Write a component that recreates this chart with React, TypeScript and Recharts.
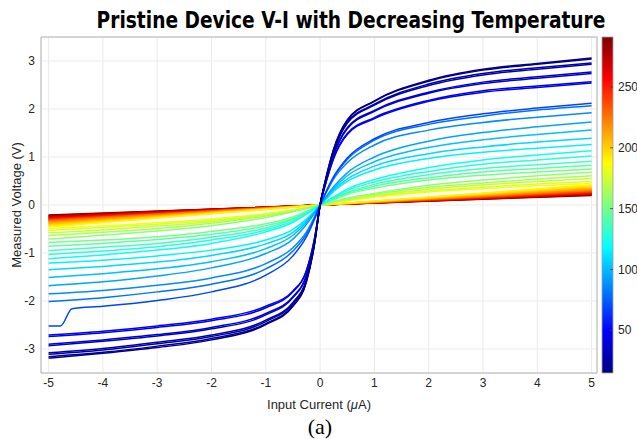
import React from "react";
import { CartesianGrid, Line, LineChart, ReferenceArea, XAxis, YAxis } from "recharts";

// current sweep (uA) shared by the curved sweeps
const CURRENT_GRID = [-5, -4, -3, -2, -1, -0.5, -0.25, -0.1, 0, 0.1, 0.25, 0.5, 1, 2, 3, 4, 5];

const V_T15 = [-3.19, -3.09, -2.97, -2.81, -2.49, -2.11, -1.6, -0.8, 0, 0.52, 1.16, 1.77, 2.17, 2.6, 2.83, 2.95, 3.06];
const V_T20 = [-3.16, -3.07, -2.94, -2.78, -2.47, -2.09, -1.58, -0.79, 0, 0.52, 1.16, 1.76, 2.16, 2.58, 2.81, 2.93, 3.04];
const V_T25 = [-3.11, -3.02, -2.89, -2.74, -2.43, -2.05, -1.56, -0.78, 0, 0.5, 1.12, 1.72, 2.1, 2.52, 2.74, 2.86, 2.96];
const V_T30 = [-3.08, -2.99, -2.86, -2.71, -2.4, -2.03, -1.54, -0.77, 0, 0.5, 1.11, 1.7, 2.08, 2.49, 2.71, 2.83, 2.93];
const V_T35 = [-2.93, -2.84, -2.73, -2.58, -2.29, -1.93, -1.47, -0.73, 0, 0.47, 1.05, 1.61, 1.97, 2.35, 2.56, 2.67, 2.77];
const V_T40 = [-2.9, -2.81, -2.7, -2.55, -2.26, -1.91, -1.45, -0.73, 0, 0.47, 1.04, 1.59, 1.95, 2.33, 2.53, 2.64, 2.74];
const V_T45 = [-2.74, -2.66, -2.55, -2.41, -2.14, -1.81, -1.37, -0.69, 0, 0.44, 0.98, 1.49, 1.82, 2.18, 2.38, 2.48, 2.57];
const V_T50 = [-2.71, -2.63, -2.52, -2.38, -2.11, -1.79, -1.36, -0.68, 0, 0.43, 0.97, 1.47, 1.8, 2.16, 2.35, 2.45, 2.54];
const V_T80 = [-2.01, -1.93, -1.81, -1.65, -1.33, -0.96, -0.6, -0.26, 0, 0.25, 0.58, 0.95, 1.35, 1.68, 1.85, 1.98, 2.07];
const V_T87 = [-1.85, -1.78, -1.67, -1.52, -1.22, -0.89, -0.56, -0.24, 0, 0.23, 0.54, 0.88, 1.25, 1.56, 1.72, 1.83, 1.92];
const V_T94 = [-1.68, -1.6, -1.48, -1.31, -1.01, -0.71, -0.4, -0.17, 0, 0.16, 0.38, 0.67, 1.0, 1.33, 1.51, 1.63, 1.73];
const V_T101 = [-1.51, -1.43, -1.33, -1.18, -0.91, -0.63, -0.36, -0.15, 0, 0.14, 0.34, 0.61, 0.9, 1.2, 1.36, 1.47, 1.56];
const V_T108 = [-1.35, -1.28, -1.19, -1.05, -0.81, -0.57, -0.32, -0.14, 0, 0.13, 0.31, 0.54, 0.81, 1.07, 1.21, 1.31, 1.39];
const V_T115 = [-1.21, -1.15, -1.06, -0.94, -0.73, -0.51, -0.29, -0.12, 0, 0.11, 0.28, 0.49, 0.73, 0.97, 1.1, 1.18, 1.26];
const V_T122 = [-1.12, -1.04, -0.94, -0.8, -0.56, -0.36, -0.19, -0.08, 0, 0.07, 0.17, 0.33, 0.53, 0.78, 0.94, 1.04, 1.13];
const V_T129 = [-1.03, -0.96, -0.87, -0.73, -0.52, -0.33, -0.18, -0.07, 0, 0.06, 0.15, 0.3, 0.48, 0.7, 0.85, 0.94, 1.02];
const V_T136 = [-0.95, -0.88, -0.8, -0.67, -0.48, -0.3, -0.16, -0.07, 0, 0.05, 0.14, 0.26, 0.43, 0.63, 0.76, 0.84, 0.91];
const V_T143 = [-0.86, -0.8, -0.72, -0.61, -0.43, -0.28, -0.15, -0.06, 0, 0.05, 0.12, 0.24, 0.39, 0.57, 0.69, 0.76, 0.83];
const V_T150 = [-0.78, -0.73, -0.66, -0.55, -0.39, -0.25, -0.13, -0.05, 0, 0.05, 0.11, 0.22, 0.35, 0.52, 0.62, 0.69, 0.75];
const V_T157 = [-0.71, -0.63, -0.54, -0.43, -0.26, -0.14, -0.07, -0.03, 0, 0.03, 0.07, 0.14, 0.24, 0.41, 0.52, 0.61, 0.68];
const V_T164 = [-0.64, -0.57, -0.49, -0.38, -0.23, -0.13, -0.06, -0.03, 0, 0.02, 0.06, 0.12, 0.22, 0.37, 0.46, 0.54, 0.61];
const V_T171 = [-0.58, -0.52, -0.44, -0.35, -0.21, -0.12, -0.06, -0.02, 0, 0.02, 0.06, 0.11, 0.2, 0.33, 0.42, 0.49, 0.55];
const V_T178 = [-0.53, -0.47, -0.4, -0.32, -0.19, -0.11, -0.05, -0.02, 0, 0.02, 0.05, 0.1, 0.18, 0.29, 0.37, 0.44, 0.49];
const V_T185 = [-0.49, -0.44, -0.37, -0.29, -0.18, -0.1, -0.05, -0.02, 0, 0.02, 0.05, 0.09, 0.16, 0.27, 0.34, 0.4, 0.45];

// the one sweep with a jump near -5 uA
const KINK_TEMP = 68;
const KINK_CURRENT = [-5, -4.78, -4.57, -4, -3, -2, -1, -0.5, -0.25, -0.1, 0, 0.1, 0.25, 0.5, 1, 2, 3, 4, 5];
const KINK_VOLTAGE = [-2.52, -2.52, -2.16, -2.11, -1.99, -1.81, -1.46, -1.06, -0.66, -0.29, 0, 0.25, 0.59, 0.98, 1.38, 1.72, 1.9, 2.02, 2.12];

// warm sweeps are practically ohmic: end points only
const LINEAR_CURRENT = [-5, 0, 5];
const LINEAR_TEMPS = [190, 195, 200, 205, 210, 215, 220, 225, 230, 235, 240, 245, 250, 255, 260, 265, 270, 275, 280, 285, 290];
const LINEAR_V_POS = [0.42, 0.4, 0.38, 0.365, 0.35, 0.335, 0.32, 0.31, 0.3, 0.29, 0.28, 0.27, 0.26, 0.25, 0.245, 0.24, 0.23, 0.225, 0.22, 0.21, 0.2];
const LINEAR_V_NEG = [-0.46, -0.44, -0.42, -0.4, -0.385, -0.37, -0.355, -0.34, -0.33, -0.32, -0.31, -0.3, -0.29, -0.28, -0.27, -0.26, -0.25, -0.24, -0.23, -0.22, -0.21];

const CURVED: [number, number[]][] = [
  [15, V_T15], [20, V_T20], [25, V_T25], [30, V_T30], [35, V_T35], [40, V_T40],
  [45, V_T45], [50, V_T50], [80, V_T80], [87, V_T87], [94, V_T94], [101, V_T101],
  [108, V_T108], [115, V_T115], [122, V_T122], [129, V_T129], [136, V_T136],
  [143, V_T143], [150, V_T150], [157, V_T157], [164, V_T164], [171, V_T171],
  [178, V_T178], [185, V_T185],
];

const X_TICKS = [-5, -4, -3, -2, -1, 0, 1, 2, 3, 4, 5];
const Y_TICKS = [-3, -2, -1, 0, 1, 2, 3];
const COLORBAR_TICKS = [50, 100, 150, 200, 250];
const T_MIN = 15;
const T_MAX = 291;

const W = 637;
const H = 439;
const PLOT = { left: 41, right: 597, top: 37, bottom: 373 };
const X_AXIS_H = 24;
const FONT = "'Liberation Sans', Arial, sans-serif";

function clamp(x: number) {
  return Math.max(0, Math.min(1, x));
}

// matlab jet colormap
function jet(t: number) {
  const r = clamp(1.5 - Math.abs(4 * t - 3));
  const g = clamp(1.5 - Math.abs(4 * t - 2));
  const b = clamp(1.5 - Math.abs(4 * t - 1));
  return `rgb(${Math.round(r * 255)},${Math.round(g * 255)},${Math.round(b * 255)})`;
}

const tempColor = (T: number) => jet((T - T_MIN) / (T_MAX - T_MIN));

type Sweep = { temp: number; pts: { i: number; v: number }[]; linear: boolean };

const sweeps: Sweep[] = [
  ...CURVED.map(([temp, vs]) => ({
    temp,
    pts: CURRENT_GRID.map((i, k) => ({ i, v: vs[k] })),
    linear: false,
  })),
  {
    temp: KINK_TEMP,
    pts: KINK_CURRENT.map((i, k) => ({ i, v: KINK_VOLTAGE[k] })),
    linear: false,
  },
  ...LINEAR_TEMPS.map((temp, k) => ({
    temp,
    pts: LINEAR_CURRENT.map((i, j) => ({ i, v: [LINEAR_V_NEG[k], 0, LINEAR_V_POS[k]][j] })),
    linear: true,
  })),
].sort((a, b) => b.temp - a.temp); // hot first, cold on top

function Overlay() {
  const cbX = 602;
  const cbW = 11;
  const cbY = (T: number) => PLOT.bottom - ((T - T_MIN) / (T_MAX - T_MIN)) * (PLOT.bottom - PLOT.top);
  const stops = [0, 0.125, 0.25, 0.375, 0.5, 0.625, 0.75, 0.875, 1];
  return (
    <svg width={W} height={H} style={{ position: "absolute", left: 0, top: 0, pointerEvents: "none" }}>
      <defs>
        <linearGradient id="jet" x1="0" y1="1" x2="0" y2="0">
          {stops.map((s) => (
            <stop key={s} offset={s} stopColor={jet(s)} />
          ))}
        </linearGradient>
      </defs>
      <g transform="translate(351,28) scale(0.81,1)">
        <text
          x={0}
          y={0}
          textAnchor="middle"
          fontFamily="'DejaVu Sans', Verdana, sans-serif"
          fontWeight="bold"
          fontSize={23}
          fill="#000"
        >
          Pristine Device V-I with Decreasing Temperature
        </text>
      </g>
      <text
        transform="translate(16,205) rotate(-90)"
        textAnchor="middle"
        dominantBaseline="central"
        fontFamily={FONT}
        fontSize={13}
        fill="#262626"
      >
        Measured Voltage (V)
      </text>
      <text x={319} y={404} textAnchor="middle" dominantBaseline="central" fontFamily={FONT} fontSize={13} fill="#262626">
        Input Current (<tspan fontStyle="italic">μ</tspan>A)
      </text>
      <text x={320} y={426} textAnchor="middle" dominantBaseline="central" fontFamily="'Liberation Serif', 'Times New Roman', serif" fontSize={22} fill="#000">
        (a)
      </text>
      <rect x={cbX} y={PLOT.top} width={cbW} height={PLOT.bottom - PLOT.top} fill="url(#jet)" stroke="#a0a0a0" strokeWidth={0.8} />
      {COLORBAR_TICKS.map((T) => (
        <g key={T}>
          <line x1={cbX + cbW - 3} x2={cbX + cbW} y1={cbY(T)} y2={cbY(T)} stroke="#404040" strokeWidth={0.8} />
          <text x={cbX + cbW + 5} y={cbY(T)} dominantBaseline="central" fontFamily={FONT} fontSize={12} fill="#262626">
            {T}
          </text>
        </g>
      ))}
    </svg>
  );
}

export default function App() {
  return (
    <div style={{ position: "absolute", left: 0, top: 0, width: W, height: H, background: "#fff", overflow: "hidden" }}>
      <LineChart
        width={W}
        height={H}
        margin={{ top: PLOT.top, right: W - PLOT.right, bottom: H - PLOT.bottom - X_AXIS_H, left: 0 }}
      >
        <CartesianGrid stroke="#ebebeb" strokeWidth={1} />
        <XAxis
          type="number"
          dataKey="i"
          domain={[-5.14, 5.1]}
          ticks={X_TICKS}
          interval={0}
          height={X_AXIS_H}
          tickSize={0}
          tickMargin={5}
          axisLine={false}
          tickLine={false}
          allowDataOverflow
          tick={{ fill: "#262626", fontSize: 12, fontFamily: FONT }}
        />
        <YAxis
          type="number"
          domain={[-3.5, 3.5]}
          ticks={Y_TICKS}
          interval={0}
          width={PLOT.left}
          tickSize={0}
          tickMargin={6}
          axisLine={false}
          tickLine={false}
          allowDataOverflow
          tick={{ fill: "#262626", fontSize: 12, fontFamily: FONT }}
        />
        <ReferenceArea x1={-5.14} x2={5.1} y1={-3.5} y2={3.5} fill="none" fillOpacity={0} stroke="#b4b4b4" strokeWidth={1} />
        {sweeps.map((s) => (
          <Line
            key={s.temp}
            data={s.pts}
            dataKey="v"
            type={s.linear ? "linear" : "monotone"}
            stroke={tempColor(s.temp)}
            strokeWidth={1.5}
            dot={false}
            activeDot={false}
            isAnimationActive={false}
          />
        ))}
      </LineChart>
      <Overlay />
    </div>
  );
}
